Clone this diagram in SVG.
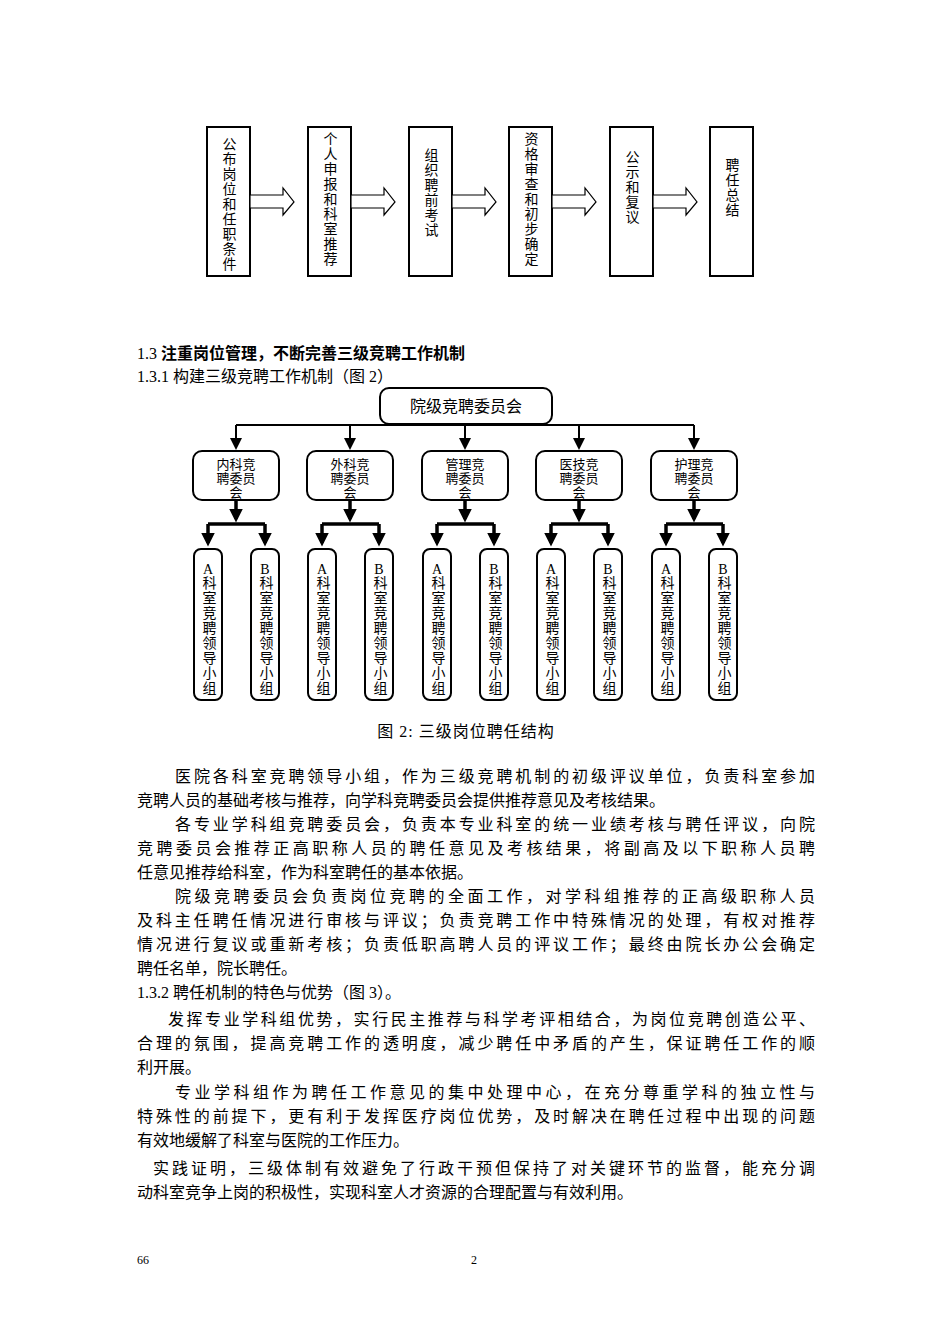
<svg xmlns="http://www.w3.org/2000/svg" width="950" height="1344" viewBox="0 0 950 1344">
<style>
text{font-family:"Liberation Serif","Noto Sans CJK SC",serif;fill:#000}
.t{font-size:16px}
.b{fill:#fff;stroke:#000;stroke-width:2}
.c{fill:none;stroke:#000;stroke-width:2}
.k{fill:none;stroke:#000;stroke-width:3.5}
.ba{fill:#fff;stroke:#000;stroke-width:1.2}
.v{writing-mode:tb;font-size:14px;letter-spacing:1px}
.lv{writing-mode:tb;font-size:14px;letter-spacing:1px}
</style>
<defs>
<marker id="ah" markerWidth="6" markerHeight="6" refX="5" refY="3" orient="auto" markerUnits="strokeWidth"><path d="M0,0L6,3L0,6z" fill="#000"/></marker>
<marker id="ak" markerWidth="4" markerHeight="4" refX="3" refY="2" orient="auto" markerUnits="strokeWidth"><path d="M0,0L4,2L0,4z" fill="#000"/></marker>
</defs>
<rect width="950" height="1344" fill="#fff"/>
<g id="flow-nodes">
<g id="f1"><rect class="b" x="207" y="127" width="43" height="149"/><text x="228" y="137" class="v">公布岗位和任职条件</text></g>
<g id="f2"><rect class="b" x="308" y="127" width="43" height="149"/><text x="329" y="132" class="v">个人申报和科室推荐</text></g>
<g id="f3"><rect class="b" x="409" y="127" width="43" height="149"/><text x="430" y="148" class="v">组织聘前考试</text></g>
<g id="f4"><rect class="b" x="509" y="127" width="43" height="149"/><text x="530" y="132" class="v">资格审查和初步确定</text></g>
<g id="f5"><rect class="b" x="610" y="127" width="43" height="149"/><text x="631" y="150" class="v">公示和复议</text></g>
<g id="f6"><rect class="b" x="710" y="127" width="43" height="149"/><text x="731" y="158" class="v">聘任总结</text></g>
</g>
<g id="flow-arrows">
<path class="ba" d="M250,195H283V188L294,202L283,215V208H250Z"/>
<path class="ba" d="M351,195H384V188L395,202L384,215V208H351Z"/>
<path class="ba" d="M452,195H485V188L496,202L485,215V208H452Z"/>
<path class="ba" d="M552,195H585V188L596,202L585,215V208H552Z"/>
<path class="ba" d="M653,195H686V188L697,202L686,215V208H653Z"/>
</g>
<text x="137" y="359" class="t">1.3 <tspan font-weight="bold">注重岗位管理，不断完善三级竞聘工作机制</tspan></text>
<text x="137" y="382" class="t">1.3.1 构建三级竞聘工作机制（图 2）</text>
<g id="top"><rect class="b" x="380" y="388" width="172" height="36" rx="9"/>
<text x="466" y="412" class="t" text-anchor="middle">院级竞聘委员会</text></g>
<g id="connectors">
<path class="c" d="M236,425H694"/>
<path class="c" marker-end="url(#ah)" d="M236,425V448"/>
<path class="c" marker-end="url(#ah)" d="M350,425V448"/>
<path class="c" marker-end="url(#ah)" d="M465,425V448"/>
<path class="c" marker-end="url(#ah)" d="M579,425V448"/>
<path class="c" marker-end="url(#ah)" d="M694,425V448"/>
<g class="k">
<path marker-end="url(#ak)" d="M236,500V519"/><path d="M208,524H265"/><path marker-end="url(#ak)" d="M208,524V543"/><path marker-end="url(#ak)" d="M265,524V543"/>
<path marker-end="url(#ak)" d="M350,500V519"/><path d="M322,524H379"/><path marker-end="url(#ak)" d="M322,524V543"/><path marker-end="url(#ak)" d="M379,524V543"/>
<path marker-end="url(#ak)" d="M465,500V519"/><path d="M437,524H494"/><path marker-end="url(#ak)" d="M437,524V543"/><path marker-end="url(#ak)" d="M494,524V543"/>
<path marker-end="url(#ak)" d="M579,500V519"/><path d="M551,524H608"/><path marker-end="url(#ak)" d="M551,524V543"/><path marker-end="url(#ak)" d="M608,524V543"/>
<path marker-end="url(#ak)" d="M694,500V519"/><path d="M666,524H723"/><path marker-end="url(#ak)" d="M666,524V543"/><path marker-end="url(#ak)" d="M723,524V543"/>
</g>
</g>
<g id="mid" font-size="13">
<g id="m1"><rect class="b" x="193" y="451" width="86" height="49" rx="9"/><text text-anchor="middle" font-size="13"><tspan x="236" y="469">内科竞</tspan><tspan x="236" y="483">聘委员</tspan><tspan x="236" y="497">会</tspan></text></g>
<g id="m2"><rect class="b" x="307" y="451" width="86" height="49" rx="9"/><text text-anchor="middle" font-size="13"><tspan x="350" y="469">外科竞</tspan><tspan x="350" y="483">聘委员</tspan><tspan x="350" y="497">会</tspan></text></g>
<g id="m3"><rect class="b" x="422" y="451" width="86" height="49" rx="9"/><text text-anchor="middle" font-size="13"><tspan x="465" y="469">管理竞</tspan><tspan x="465" y="483">聘委员</tspan><tspan x="465" y="497">会</tspan></text></g>
<g id="m4"><rect class="b" x="536" y="451" width="86" height="49" rx="9"/><text text-anchor="middle" font-size="13"><tspan x="579" y="469">医技竞</tspan><tspan x="579" y="483">聘委员</tspan><tspan x="579" y="497">会</tspan></text></g>
<g id="m5"><rect class="b" x="651" y="451" width="86" height="49" rx="9"/><text text-anchor="middle" font-size="13"><tspan x="694" y="469">护理竞</tspan><tspan x="694" y="483">聘委员</tspan><tspan x="694" y="497">会</tspan></text></g>
</g>
<g id="leaves" font-size="14">
<g id="l1"><rect class="b" x="194" y="549" width="28" height="151" rx="7"/><text x="208" y="574" text-anchor="middle">A</text><text x="208" y="576" class="lv">科室竞聘领导小组</text></g>
<g id="l2"><rect class="b" x="251" y="549" width="28" height="151" rx="7"/><text x="265" y="574" text-anchor="middle">B</text><text x="265" y="576" class="lv">科室竞聘领导小组</text></g>
<g id="l3"><rect class="b" x="308" y="549" width="28" height="151" rx="7"/><text x="322" y="574" text-anchor="middle">A</text><text x="322" y="576" class="lv">科室竞聘领导小组</text></g>
<g id="l4"><rect class="b" x="365" y="549" width="28" height="151" rx="7"/><text x="379" y="574" text-anchor="middle">B</text><text x="379" y="576" class="lv">科室竞聘领导小组</text></g>
<g id="l5"><rect class="b" x="423" y="549" width="28" height="151" rx="7"/><text x="437" y="574" text-anchor="middle">A</text><text x="437" y="576" class="lv">科室竞聘领导小组</text></g>
<g id="l6"><rect class="b" x="480" y="549" width="28" height="151" rx="7"/><text x="494" y="574" text-anchor="middle">B</text><text x="494" y="576" class="lv">科室竞聘领导小组</text></g>
<g id="l7"><rect class="b" x="537" y="549" width="28" height="151" rx="7"/><text x="551" y="574" text-anchor="middle">A</text><text x="551" y="576" class="lv">科室竞聘领导小组</text></g>
<g id="l8"><rect class="b" x="594" y="549" width="28" height="151" rx="7"/><text x="608" y="574" text-anchor="middle">B</text><text x="608" y="576" class="lv">科室竞聘领导小组</text></g>
<g id="l9"><rect class="b" x="652" y="549" width="28" height="151" rx="7"/><text x="666" y="574" text-anchor="middle">A</text><text x="666" y="576" class="lv">科室竞聘领导小组</text></g>
<g id="l10"><rect class="b" x="709" y="549" width="28" height="151" rx="7"/><text x="723" y="574" text-anchor="middle">B</text><text x="723" y="576" class="lv">科室竞聘领导小组</text></g>
</g>
<text x="466" y="737" class="t" text-anchor="middle" letter-spacing="1">图 2:  三级岗位聘任结构</text>
<g class="t" font-size="16">
<text x="175" y="782" textLength="640" lengthAdjust="spacing">医院各科室竞聘领导小组，作为三级竞聘机制的初级评议单位，负责科室参加</text>
<text x="137" y="806">竞聘人员的基础考核与推荐，向学科竞聘委员会提供推荐意见及考核结果。</text>
<text x="175" y="830" textLength="640" lengthAdjust="spacing">各专业学科组竞聘委员会，负责本专业科室的统一业绩考核与聘任评议，向院</text>
<text x="137" y="854" textLength="678" lengthAdjust="spacing">竞聘委员会推荐正高职称人员的聘任意见及考核结果，将副高及以下职称人员聘</text>
<text x="137" y="878">任意见推荐给科室，作为科室聘任的基本依据。</text>
<text x="175" y="902" textLength="640" lengthAdjust="spacing">院级竞聘委员会负责岗位竞聘的全面工作，对学科组推荐的正高级职称人员</text>
<text x="137" y="926" textLength="678" lengthAdjust="spacing">及科主任聘任情况进行审核与评议；负责竞聘工作中特殊情况的处理，有权对推荐</text>
<text x="137" y="950" textLength="678" lengthAdjust="spacing">情况进行复议或重新考核；负责低职高聘人员的评议工作；最终由院长办公会确定</text>
<text x="137" y="974">聘任名单，院长聘任。</text>
<text x="137" y="998">1.3.2 聘任机制的特色与优势（图 3）。</text>
<text x="168" y="1025" textLength="647" lengthAdjust="spacing">发挥专业学科组优势，实行民主推荐与科学考评相结合，为岗位竞聘创造公平、</text>
<text x="137" y="1049" textLength="678" lengthAdjust="spacing">合理的氛围，提高竞聘工作的透明度，减少聘任中矛盾的产生，保证聘任工作的顺</text>
<text x="137" y="1073">利开展。</text>
<text x="175" y="1098" textLength="640" lengthAdjust="spacing">专业学科组作为聘任工作意见的集中处理中心，在充分尊重学科的独立性与</text>
<text x="137" y="1122" textLength="678" lengthAdjust="spacing">特殊性的前提下，更有利于发挥医疗岗位优势，及时解决在聘任过程中出现的问题</text>
<text x="137" y="1146">有效地缓解了科室与医院的工作压力。</text>
<text x="153" y="1174" textLength="662" lengthAdjust="spacing">实践证明，三级体制有效避免了行政干预但保持了对关键环节的监督，能充分调</text>
<text x="137" y="1198">动科室竞争上岗的积极性，实现科室人才资源的合理配置与有效利用。</text>
</g>
<text x="137" y="1264" font-size="12">66</text>
<text x="471" y="1264" font-size="12">2</text>
</svg>
